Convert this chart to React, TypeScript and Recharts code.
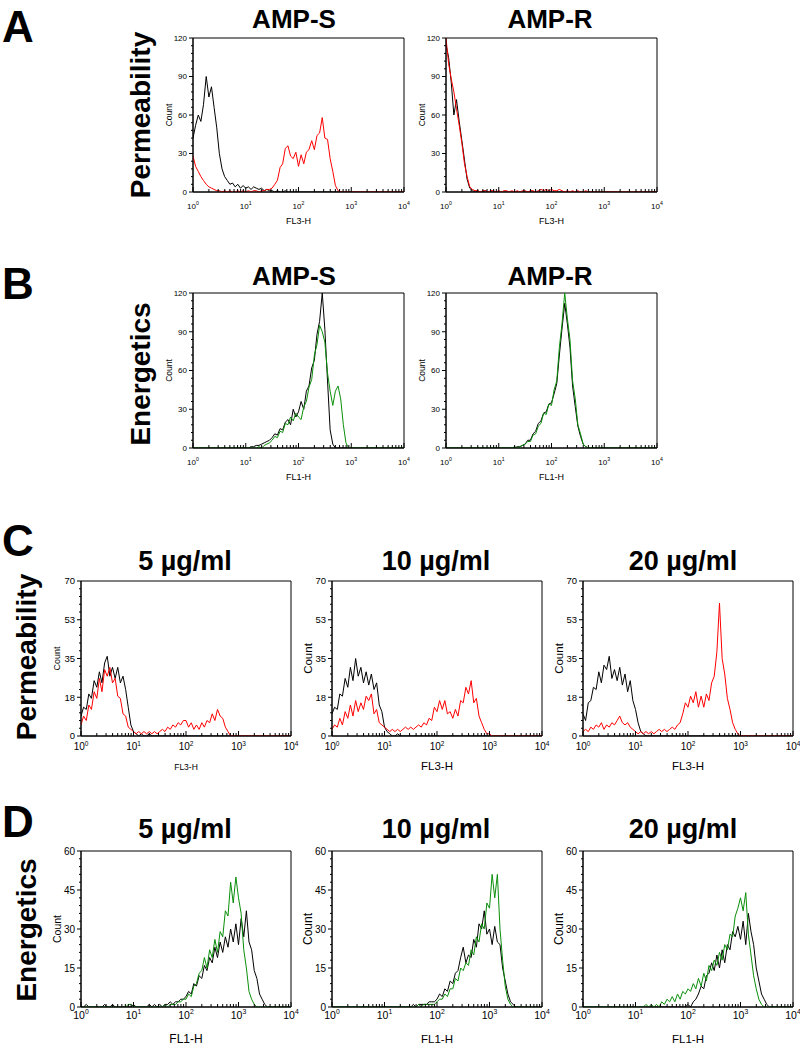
import { LineChart, Line, XAxis, YAxis, ReferenceArea } from "recharts";

const FONT = "'Liberation Sans', Arial, sans-serif";
const RED = "#ff0000";
const GREEN = "#0a8f0a";

// channel positions on the log axis (20 per decade)
const CHANNELS = [
  1, 1.12, 1.26, 1.41, 1.58, 1.78, 2, 2.24, 2.51, 2.82,
  3.16, 3.55, 3.98, 4.47, 5.01, 5.62, 6.31, 7.08, 7.94, 8.91,
  10, 11.2, 12.6, 14.1, 15.8, 17.8, 20, 22.4, 25.1, 28.2,
  31.6, 35.5, 39.8, 44.7, 50.1, 56.2, 63.1, 70.8, 79.4, 89.1,
  100, 112, 126, 141, 158, 178, 200, 224, 251, 282,
  316, 355, 398, 447, 501, 562, 631, 708, 794, 891,
  1000, 1122, 1259, 1413, 1585, 1778, 1995, 2239, 2512, 2818,
  3162, 3548, 3981, 4467, 5012, 5623, 6310, 7079, 7943, 8913,
  10000,
];

const X_TICKS = [
  1, 2, 3, 4, 5, 6, 7, 8, 9,
  10, 20, 30, 40, 50, 60, 70, 80, 90,
  100, 200, 300, 400, 500, 600, 700, 800, 900,
  1000, 2000, 3000, 4000, 5000, 6000, 7000, 8000, 9000,
  10000,
];
const X_MAJOR = [1, 10, 100, 1000, 10000];
const X_EXP = ["0", "1", "2", "3", "4"];

const Y_TICKS_120 = [0, 6, 12, 18, 24, 30, 36, 42, 48, 54, 60, 66, 72, 78, 84, 90, 96, 102, 108, 114, 120];
const Y_MAJOR_120 = [0, 30, 60, 90, 120];
const Y_TICKS_70 = [0, 3.5, 7, 10.5, 14, 17.5, 21, 24.5, 28, 31.5, 35, 38.5, 42, 45.5, 49, 52.5, 56, 59.5, 63, 66.5, 70];
const Y_MAJOR_70 = [0, 17.5, 35, 52.5, 70];
const Y_TICKS_60 = [0, 3, 6, 9, 12, 15, 18, 21, 24, 27, 30, 33, 36, 39, 42, 45, 48, 51, 54, 57, 60];
const Y_MAJOR_60 = [0, 15, 30, 45, 60];

// A: permeability, AMP-S / AMP-R
const PERM_S_CTRL = [
  42, 52, 60, 55, 68, 90, 74, 82, 66, 50,
  30, 18, 12, 9, 6, 7, 4, 6, 3, 5,
  3, 4, 2, 4, 3, 2, 3, 1, 2, 1,
  1, 0, 1, 0, 0, 1, 0, 0, 0, 0,
  0, 0, 0, 0, 0, 0, 0, 0, 0, 0,
  0, 0, 0, 0, 0, 0, 0, 0, 0, 0,
  0, 0, 0, 0, 0, 0, 0, 0, 0, 0,
  0, 0, 0, 0, 0, 0, 0, 0, 0, 0,
  0,
];
const PERM_S_AMP = [
  28, 20, 16, 12, 9, 6, 4, 3, 2, 1,
  1, 0, 1, 0, 1, 0, 0, 1, 0, 1,
  0, 1, 0, 1, 1, 0, 1, 1, 2, 2,
  3, 6, 9, 19, 22, 34, 36, 28, 26, 31,
  20, 29, 22, 31, 33, 40, 33, 44, 46, 58,
  42, 41, 26, 16, 5, 1, 0, 0, 0, 0,
  0, 0, 0, 0, 0, 0, 0, 0, 0, 0,
  0, 0, 0, 0, 0, 0, 0, 0, 0, 0,
  0,
];
const PERM_R_CTRL = [
  115, 105, 85, 60, 72, 55, 40, 25, 10, 3,
  1, 0, 1, 0, 0, 1, 0, 0, 0, 0,
  0, 0, 0, 0, 0, 0, 0, 0, 0, 0,
  0, 0, 0, 0, 0, 0, 0, 0, 0, 0,
  0, 0, 0, 0, 0, 0, 0, 0, 0, 0,
  0, 0, 0, 0, 0, 0, 0, 0, 0, 0,
  0, 0, 0, 0, 0, 0, 0, 0, 0, 0,
  0, 0, 0, 0, 0, 0, 0, 0, 0, 0,
  0,
];
const PERM_R_AMP = [
  120, 100, 88, 78, 65, 52, 38, 22, 12, 4,
  2, 1, 1, 0, 1, 1, 0, 1, 1, 0,
  1, 0, 1, 1, 0, 1, 0, 1, 0, 1,
  1, 0, 1, 1, 0, 1, 2, 1, 2, 1,
  2, 1, 1, 2, 1, 0, 1, 0, 1, 0,
  1, 0, 0, 1, 0, 0, 0, 0, 0, 0,
  0, 0, 0, 0, 0, 0, 0, 0, 0, 0,
  0, 0, 0, 0, 0, 0, 0, 0, 0, 0,
  0,
];

// B: energetics, AMP-S / AMP-R
const ENER_S_CTRL = [
  0, 0, 0, 0, 0, 0, 0, 0, 0, 0,
  0, 0, 0, 0, 0, 0, 0, 0, 0, 0,
  0, 0, 1, 1, 2, 2, 3, 4, 5, 6,
  8, 11, 10, 15, 14, 20, 22, 18, 30, 24,
  28, 36, 30, 44, 48, 62, 68, 88, 98, 120,
  92, 52, 14, 3, 0, 0, 0, 0, 0, 0,
  0, 0, 0, 0, 0, 0, 0, 0, 0, 0,
  0, 0, 0, 0, 0, 0, 0, 0, 0, 0,
  0,
];
const ENER_S_AMP = [
  0, 0, 0, 0, 0, 0, 0, 0, 0, 0,
  0, 0, 0, 0, 0, 0, 0, 0, 0, 0,
  0, 0, 0, 0, 0, 1, 0, 2, 3, 4,
  6, 9, 8, 13, 12, 19, 18, 24, 21, 27,
  24, 22, 32, 36, 47, 53, 72, 80, 95, 90,
  82, 58, 44, 33, 44, 48, 38, 18, 4, 0,
  0, 0, 0, 0, 0, 0, 0, 0, 0, 0,
  0, 0, 0, 0, 0, 0, 0, 0, 0, 0,
  0,
];
const ENER_R_CTRL = [
  0, 0, 0, 0, 0, 0, 0, 0, 0, 0,
  0, 0, 0, 0, 0, 0, 0, 0, 0, 0,
  0, 0, 0, 0, 0, 0, 0, 1, 1, 2,
  3, 6, 6, 11, 13, 19, 21, 27, 28, 34,
  35, 42, 50, 72, 92, 112, 96, 78, 48, 32,
  17, 9, 3, 1, 0, 0, 0, 0, 0, 0,
  0, 0, 0, 0, 0, 0, 0, 0, 0, 0,
  0, 0, 0, 0, 0, 0, 0, 0, 0, 0,
  0,
];
const ENER_R_AMP = [
  0, 0, 0, 0, 0, 0, 0, 0, 0, 0,
  0, 0, 0, 0, 0, 0, 0, 0, 0, 0,
  0, 0, 0, 0, 0, 0, 1, 0, 1, 2,
  3, 5, 5, 10, 11, 17, 19, 27, 26, 34,
  33, 45, 52, 78, 96, 120, 100, 84, 52, 38,
  18, 11, 3, 1, 0, 0, 0, 0, 0, 0,
  0, 0, 0, 0, 0, 0, 0, 0, 0, 0,
  0, 0, 0, 0, 0, 0, 0, 0, 0, 0,
  0,
];

// C: permeability at 5 / 10 / 20 µg/ml
const PERM5_CTRL = [
  9, 13, 12, 19, 17, 25, 22, 29, 24, 33,
  36, 27, 31, 26, 31, 24, 27, 21, 13, 5,
  2, 1, 0, 1, 0, 0, 1, 0, 0, 0,
  0, 0, 0, 0, 0, 0, 0, 0, 0, 0,
  0, 0, 0, 0, 0, 0, 0, 0, 0, 0,
  0, 0, 0, 0, 0, 0, 0, 0, 0, 0,
  0, 0, 0, 0, 0, 0, 0, 0, 0, 0,
  0, 0, 0, 0, 0, 0, 0, 0, 0, 0,
  0,
];
const PERM5_AMP = [
  5, 9, 7, 14, 12, 20, 17, 26, 20, 30,
  27, 31, 24, 26, 18, 17, 10, 9, 4, 3,
  2, 1, 2, 1, 2, 1, 2, 1, 2, 1,
  2, 3, 2, 4, 3, 5, 4, 6, 5, 7,
  7, 4, 6, 3, 5, 3, 6, 4, 7, 6,
  10, 7, 12, 9, 8, 4, 2, 0, 0, 0,
  0, 0, 0, 0, 0, 0, 0, 0, 0, 0,
  0, 0, 0, 0, 0, 0, 0, 0, 0, 0,
  0,
];
const PERM10_CTRL = [
  10, 13, 12, 19, 18, 26, 22, 31, 25, 35,
  27, 31, 24, 29, 23, 28, 21, 24, 14, 11,
  4, 2, 1, 0, 0, 1, 0, 0, 0, 0,
  0, 0, 0, 0, 0, 0, 0, 0, 0, 0,
  0, 0, 0, 0, 0, 0, 0, 0, 0, 0,
  0, 0, 0, 0, 0, 0, 0, 0, 0, 0,
  0, 0, 0, 0, 0, 0, 0, 0, 0, 0,
  0, 0, 0, 0, 0, 0, 0, 0, 0, 0,
  0,
];
const PERM10_AMP = [
  3, 5, 4, 8, 5, 11, 8, 14, 9, 16,
  11, 15, 12, 18, 16, 19, 10, 12, 6, 5,
  4, 3, 2, 3, 2, 3, 2, 3, 4, 3,
  4, 3, 4, 5, 4, 6, 5, 8, 7, 13,
  11, 16, 12, 16, 10, 11, 8, 12, 9, 16,
  15, 22, 19, 25, 15, 17, 9, 6, 3, 1,
  1, 0, 0, 0, 0, 0, 0, 0, 0, 0,
  0, 0, 0, 0, 0, 0, 0, 0, 0, 0,
  0,
];
const PERM20_CTRL = [
  10, 7, 15, 16, 22, 21, 29, 24, 32, 30,
  36, 26, 30, 25, 31, 23, 28, 20, 25, 16,
  12, 6, 2, 1, 0, 0, 0, 0, 0, 0,
  0, 0, 0, 0, 0, 0, 0, 0, 0, 0,
  0, 0, 0, 0, 0, 0, 0, 0, 0, 0,
  0, 0, 0, 0, 0, 0, 0, 0, 0, 0,
  0, 0, 0, 0, 0, 0, 0, 0, 0, 0,
  0, 0, 0, 0, 0, 0, 0, 0, 0, 0,
  0,
];
const PERM20_AMP = [
  2, 3, 2, 4, 3, 5, 4, 6, 3, 5,
  4, 6, 5, 7, 9, 6, 5, 6, 4, 3,
  2, 1, 2, 1, 2, 1, 2, 1, 2, 3,
  2, 3, 2, 3, 4, 3, 5, 6, 10, 15,
  13, 18, 15, 20, 13, 18, 13, 19, 16, 24,
  27, 38, 60, 35, 28, 17, 12, 6, 3, 1,
  0, 0, 0, 0, 0, 0, 0, 0, 0, 0,
  0, 0, 0, 0, 0, 0, 0, 0, 0, 0,
  0,
];

// D: energetics at 5 / 10 / 20 µg/ml
const ENER5_CTRL = [
  0, 0, 1, 0, 0, 0, 0, 0, 0, 1,
  0, 0, 1, 0, 0, 0, 0, 0, 0, 0,
  1, 0, 0, 0, 0, 0, 1, 0, 1, 0,
  1, 0, 1, 1, 2, 1, 2, 2, 3, 3,
  4, 6, 5, 9, 8, 12, 11, 16, 14, 19,
  17, 23, 19, 25, 21, 27, 23, 30, 25, 32,
  24, 34, 27, 37, 25, 22, 14, 11, 5, 3,
  1, 0, 0, 0, 0, 0, 0, 0, 0, 0,
  0,
];
const ENER5_AMP = [
  0, 0, 0, 0, 0, 0, 0, 0, 0, 0,
  0, 0, 0, 0, 0, 0, 0, 0, 1, 1,
  0, 0, 0, 0, 0, 0, 0, 0, 0, 0,
  0, 0, 1, 0, 1, 1, 1, 2, 2, 3,
  3, 5, 4, 8, 9, 13, 14, 19, 15, 22,
  19, 26, 21, 29, 27, 37, 35, 48, 40, 50,
  42, 36, 22, 15, 6, 3, 1, 0, 0, 0,
  0, 0, 0, 0, 0, 0, 0, 0, 0, 0,
  0,
];
const ENER10_CTRL = [
  0, 0, 0, 0, 0, 0, 0, 0, 0, 0,
  0, 0, 0, 0, 0, 0, 0, 0, 0, 0,
  0, 0, 0, 0, 0, 0, 0, 0, 0, 0,
  0, 1, 0, 1, 1, 1, 1, 2, 2, 2,
  3, 5, 4, 7, 6, 10, 9, 13, 14, 19,
  23, 17, 20, 19, 26, 23, 32, 30, 37, 28,
  30, 24, 31, 25, 24, 15, 10, 5, 2, 1,
  0, 0, 0, 0, 0, 0, 0, 0, 0, 0,
  0,
];
const ENER10_AMP = [
  0, 0, 0, 0, 0, 0, 0, 0, 0, 0,
  0, 0, 0, 0, 0, 0, 0, 0, 0, 0,
  0, 0, 0, 0, 0, 0, 0, 0, 0, 0,
  0, 0, 0, 1, 0, 1, 1, 1, 1, 1,
  2, 3, 3, 5, 4, 7, 7, 11, 10, 15,
  14, 17, 16, 22, 20, 27, 25, 32, 30, 40,
  38, 51, 42, 51, 30, 18, 8, 3, 1, 0,
  0, 0, 0, 0, 0, 0, 0, 0, 0, 0,
  0,
];
const ENER20_CTRL = [
  0, 0, 0, 0, 0, 0, 0, 0, 0, 0,
  0, 0, 0, 0, 0, 0, 0, 0, 0, 0,
  0, 0, 0, 0, 0, 0, 0, 0, 0, 0,
  0, 0, 0, 0, 0, 0, 0, 0, 0, 0,
  1, 0, 2, 3, 5, 8, 7, 12, 13, 17,
  14, 20, 15, 22, 17, 24, 22, 29, 27, 31,
  26, 33, 24, 36, 29, 24, 15, 10, 5, 3,
  1, 0, 0, 0, 0, 0, 0, 0, 0, 0,
  0,
];
const ENER20_AMP = [
  0, 0, 0, 0, 0, 0, 0, 0, 0, 0,
  0, 0, 0, 0, 0, 0, 0, 0, 0, 0,
  0, 0, 0, 0, 1, 0, 1, 0, 1, 0,
  2, 1, 3, 2, 4, 2, 5, 3, 6, 5,
  7, 6, 9, 7, 11, 8, 13, 10, 16, 14,
  18, 16, 21, 18, 24, 22, 28, 27, 35, 38,
  42, 37, 44, 28, 20, 12, 7, 3, 1, 0,
  0, 0, 0, 0, 0, 0, 0, 0, 0, 0,
  0,
];

const YW = 44; // y axis box
const XH = 46; // x axis box
const MT = 8;
const MR = 14;

interface HistProps {
  left: number;
  top: number;
  plotW: number;
  plotH: number;
  yMax: number;
  yTicks: number[];
  yMajor: number[];
  ctrl: number[];
  amp: number[];
  color: string;
  xLabel: string;
  yTickFont: number;
  xTickFont: number;
  countFont: number;
  xLabelFont: number;
  xTickDy: number;
  xLabelDy: number;
}

function XTick(props: any) {
  const { x, y, payload, font, labelDy } = props;
  const k = X_MAJOR.indexOf(payload.value);
  const major = k >= 0;
  return (
    <g>
      <line x1={x} x2={x} y1={y} y2={y - (major ? 5 : 3)} stroke="#000" strokeWidth={1} />
      {major && (
        <text x={x} y={y + labelDy} textAnchor="middle" fontSize={font} fontFamily={FONT} fill="#000">
          10
          <tspan dy={-font * 0.45} fontSize={font * 0.65}>
            {X_EXP[k]}
          </tspan>
        </text>
      )}
    </g>
  );
}

function YTick(props: any) {
  const { x, y, payload, font, major } = props;
  const isMajor = major.includes(payload.value);
  return (
    <g>
      <line x1={x} x2={x - (isMajor ? 4 : 2)} y1={y} y2={y} stroke="#000" strokeWidth={1} />
      {isMajor && (
        <text x={x - 6} y={y} dy="0.35em" textAnchor="end" fontSize={font} fontFamily={FONT} fill="#000">
          {Math.round(payload.value)}
        </text>
      )}
    </g>
  );
}

function AxisText(props: any) {
  const { px, py, font, text, vertical } = props;
  return (
    <text
      x={px}
      y={py}
      transform={vertical ? `rotate(-90 ${px} ${py})` : undefined}
      textAnchor="middle"
      dominantBaseline={vertical ? "central" : undefined}
      fontSize={font}
      fontFamily={FONT}
      fill="#000"
    >
      {text}
    </text>
  );
}

function Histogram(p: HistProps) {
  const rows = CHANNELS.map((x, i) => ({ x, ctrl: p.ctrl[i], amp: p.amp[i] }));
  return (
    <div style={{ position: "absolute", left: p.left - YW, top: p.top - MT }}>
      <LineChart
        width={YW + p.plotW + MR}
        height={MT + p.plotH + XH}
        data={rows}
        margin={{ top: MT, right: MR, left: 0, bottom: 0 }}
      >
        <XAxis
          dataKey="x"
          type="number"
          scale="log"
          domain={[1, 10000]}
          allowDataOverflow
          ticks={X_TICKS}
          interval={0}
          tickSize={0}
          tickMargin={0}
          tickLine={false}
          height={XH}
          axisLine={{ stroke: "#000" }}
          tick={<XTick font={p.xTickFont} labelDy={p.xTickDy} />}
          label={
            <AxisText
              px={YW + p.plotW / 2}
              py={MT + p.plotH + p.xLabelDy}
              font={p.xLabelFont}
              text={p.xLabel}
            />
          }
        />
        <YAxis
          type="number"
          domain={[0, p.yMax]}
          allowDataOverflow
          ticks={p.yTicks}
          interval={0}
          tickSize={0}
          tickMargin={0}
          tickLine={false}
          width={YW}
          axisLine={{ stroke: "#000" }}
          tick={<YTick font={p.yTickFont} major={p.yMajor} />}
          label={
            <AxisText px={YW - 24} py={MT + p.plotH / 2} font={p.countFont} text="Count" vertical />
          }
        />
        <ReferenceArea x1={1} x2={10000} y1={0} y2={p.yMax} fill="none" stroke="#000" strokeWidth={1} />
        <Line
          dataKey="ctrl"
          type="linear"
          stroke="#000"
          strokeWidth={1}
          dot={false}
          isAnimationActive={false}
        />
        <Line
          dataKey="amp"
          type="linear"
          stroke={p.color}
          strokeWidth={1}
          dot={false}
          isAnimationActive={false}
        />
      </LineChart>
    </div>
  );
}

const AB_FONTS = { yTickFont: 8, xTickFont: 8, countFont: 8.5, xLabelFont: 9, xTickDy: 17, xLabelDy: 32 };
const C_FONTS = { yTickFont: 9.5, xTickFont: 10, xTickDy: 14, xLabelDy: 34 };
const D_FONTS = { yTickFont: 10, xTickFont: 10.5, xTickDy: 12, xLabelDy: 36 };

const A_AXIS = { yMax: 120, yTicks: Y_TICKS_120, yMajor: Y_MAJOR_120 };
const C_AXIS = { yMax: 70, yTicks: Y_TICKS_70, yMajor: Y_MAJOR_70 };
const D_AXIS = { yMax: 60, yTicks: Y_TICKS_60, yMajor: Y_MAJOR_60 };

function Heading({ x, y, size, text, vertical, anchor }: any) {
  return (
    <text
      x={x}
      y={y}
      transform={vertical ? `rotate(-90 ${x} ${y})` : undefined}
      textAnchor={anchor || "middle"}
      dominantBaseline={vertical ? "central" : undefined}
      fontSize={size}
      fontWeight="bold"
      fontFamily={FONT}
      fill="#000"
    >
      {text}
    </text>
  );
}

export default function App() {
  return (
    <div style={{ position: "absolute", left: 0, top: 0, width: 800, height: 1044, background: "#fff" }}>
      <svg width={800} height={1044} style={{ position: "absolute", left: 0, top: 0 }}>
        <Heading x={2} y={42} size={44} text="A" anchor="start" />
        <Heading x={2} y={299} size={44} text="B" anchor="start" />
        <Heading x={2} y={556} size={44} text="C" anchor="start" />
        <Heading x={2} y={837} size={44} text="D" anchor="start" />

        <Heading x={140} y={115} size={28} text="Permeability" vertical />
        <Heading x={140} y={374} size={28} text="Energetics" vertical />
        <Heading x={26} y={657} size={28} text="Permeability" vertical />
        <Heading x={26} y={930} size={28} text="Energetics" vertical />

        <Heading x={294} y={28} size={26} text="AMP-S" />
        <Heading x={550} y={28} size={26} text="AMP-R" />
        <Heading x={294} y={285} size={26} text="AMP-S" />
        <Heading x={550} y={285} size={26} text="AMP-R" />

        <Heading x={185} y={570} size={27} text="5 µg/ml" />
        <Heading x={436} y={570} size={27} text="10 µg/ml" />
        <Heading x={683} y={570} size={27} text="20 µg/ml" />
        <Heading x={185} y={838} size={27} text="5 µg/ml" />
        <Heading x={436} y={838} size={27} text="10 µg/ml" />
        <Heading x={683} y={838} size={27} text="20 µg/ml" />
      </svg>

      <Histogram left={193} top={38} plotW={211} plotH={154} {...A_AXIS} {...AB_FONTS}
        ctrl={PERM_S_CTRL} amp={PERM_S_AMP} color={RED} xLabel="FL3-H" />
      <Histogram left={446} top={38} plotW={211} plotH={154} {...A_AXIS} {...AB_FONTS}
        ctrl={PERM_R_CTRL} amp={PERM_R_AMP} color={RED} xLabel="FL3-H" />
      <Histogram left={193} top={293} plotW={211} plotH={155} {...A_AXIS} {...AB_FONTS}
        ctrl={ENER_S_CTRL} amp={ENER_S_AMP} color={GREEN} xLabel="FL1-H" />
      <Histogram left={446} top={293} plotW={211} plotH={155} {...A_AXIS} {...AB_FONTS}
        ctrl={ENER_R_CTRL} amp={ENER_R_AMP} color={GREEN} xLabel="FL1-H" />

      <Histogram left={81} top={581} plotW={210} plotH={155} {...C_AXIS} {...C_FONTS}
        countFont={9} xLabelFont={8.5} ctrl={PERM5_CTRL} amp={PERM5_AMP} color={RED} xLabel="FL3-H" />
      <Histogram left={332} top={581} plotW={210} plotH={155} {...C_AXIS} {...C_FONTS}
        countFont={11.5} xLabelFont={11.5} ctrl={PERM10_CTRL} amp={PERM10_AMP} color={RED} xLabel="FL3-H" />
      <Histogram left={583} top={581} plotW={210} plotH={155} {...C_AXIS} {...C_FONTS}
        countFont={11.5} xLabelFont={11.5} ctrl={PERM20_CTRL} amp={PERM20_AMP} color={RED} xLabel="FL3-H" />

      <Histogram left={81} top={851} plotW={210} plotH={156} {...D_AXIS} {...D_FONTS}
        countFont={10.5} xLabelFont={12} ctrl={ENER5_CTRL} amp={ENER5_AMP} color={GREEN} xLabel="FL1-H" />
      <Histogram left={332} top={851} plotW={210} plotH={156} {...D_AXIS} {...D_FONTS}
        countFont={12} xLabelFont={11.5} ctrl={ENER10_CTRL} amp={ENER10_AMP} color={GREEN} xLabel="FL1-H" />
      <Histogram left={583} top={851} plotW={210} plotH={156} {...D_AXIS} {...D_FONTS}
        countFont={12} xLabelFont={11.5} ctrl={ENER20_CTRL} amp={ENER20_AMP} color={GREEN} xLabel="FL1-H" />
    </div>
  );
}
